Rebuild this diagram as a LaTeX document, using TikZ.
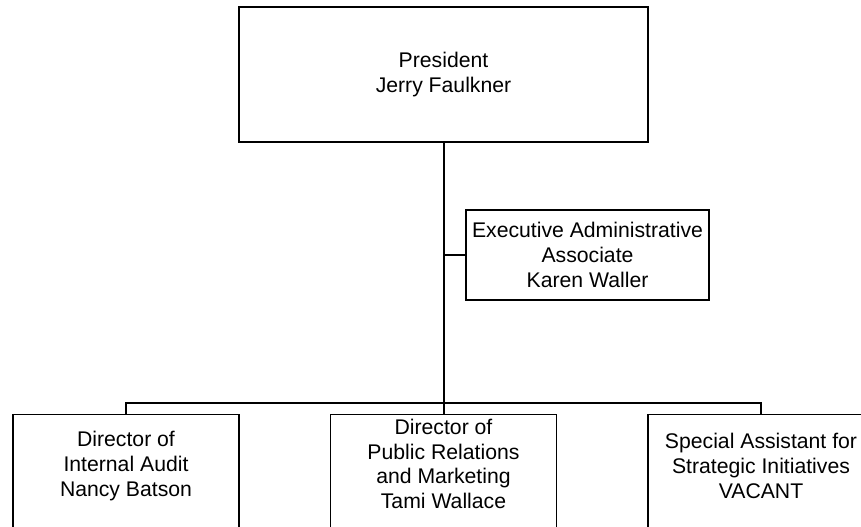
\documentclass[tikz,border=0pt]{standalone}
\usepackage{fontspec}
\setmainfont{Liberation Sans}
\definecolor{ocink}{HTML}{000000}
\tikzset{
  ocbox/.style={
    draw=ocink, fill=white, line width=1.1pt, inner sep=0pt},
  octext/.style={
    align=center, inner sep=0pt, text=ocink,
    font=\fontsize{15.9}{18.5}\selectfont},
  ocunit/.style={
    ocbox, anchor=north, minimum width=169.5pt, minimum height=112.5pt},
  ocline/.style={draw=ocink, line width=1.5pt},
}

\begin{document}
\begin{tikzpicture}[x=0.75pt, y=-0.75pt]
\useasboundingbox (0,0) rectangle (861,527);
\clip (0,0) rectangle (861,527);

% Top of the chart.
\node[ocbox, octext, minimum width=306.75pt, minimum height=101.25pt]
  (president) at (443.5,74.5) {President\\Jerry Faulkner};
\node[ocbox, octext, minimum width=182.25pt, minimum height=67.5pt]
  (exec) at (587.5,255) {Executive Administrative\\Associate\\Karen Waller};

% Units reporting to the president.
\node[ocunit] (audit) at (126,414) {};
\node[octext] (audit-text) at (126,466)
  {Director of\\Internal Audit\\Nancy Batson};
\node[ocunit] (pr) at (443.5,414) {};
\node[octext] (pr-text) at (443.5,464)
  {Director of\\Public Relations\\and Marketing\\Tami Wallace};
\node[ocunit] (special) at (761,414) {};
\node[octext] (special-text) at (761,466)
  {Special Assistant for\\Strategic Initiatives\\VACANT};

% Reporting lines.
\coordinate (split) at (443.5,403);
\draw[ocline] (president.south) -- (pr.north);
\draw[ocline] (exec.west) -- (exec.west -| president.south);
\draw[ocline] (audit.north) |- (split) -| (special.north);

\end{tikzpicture}
\end{document}
